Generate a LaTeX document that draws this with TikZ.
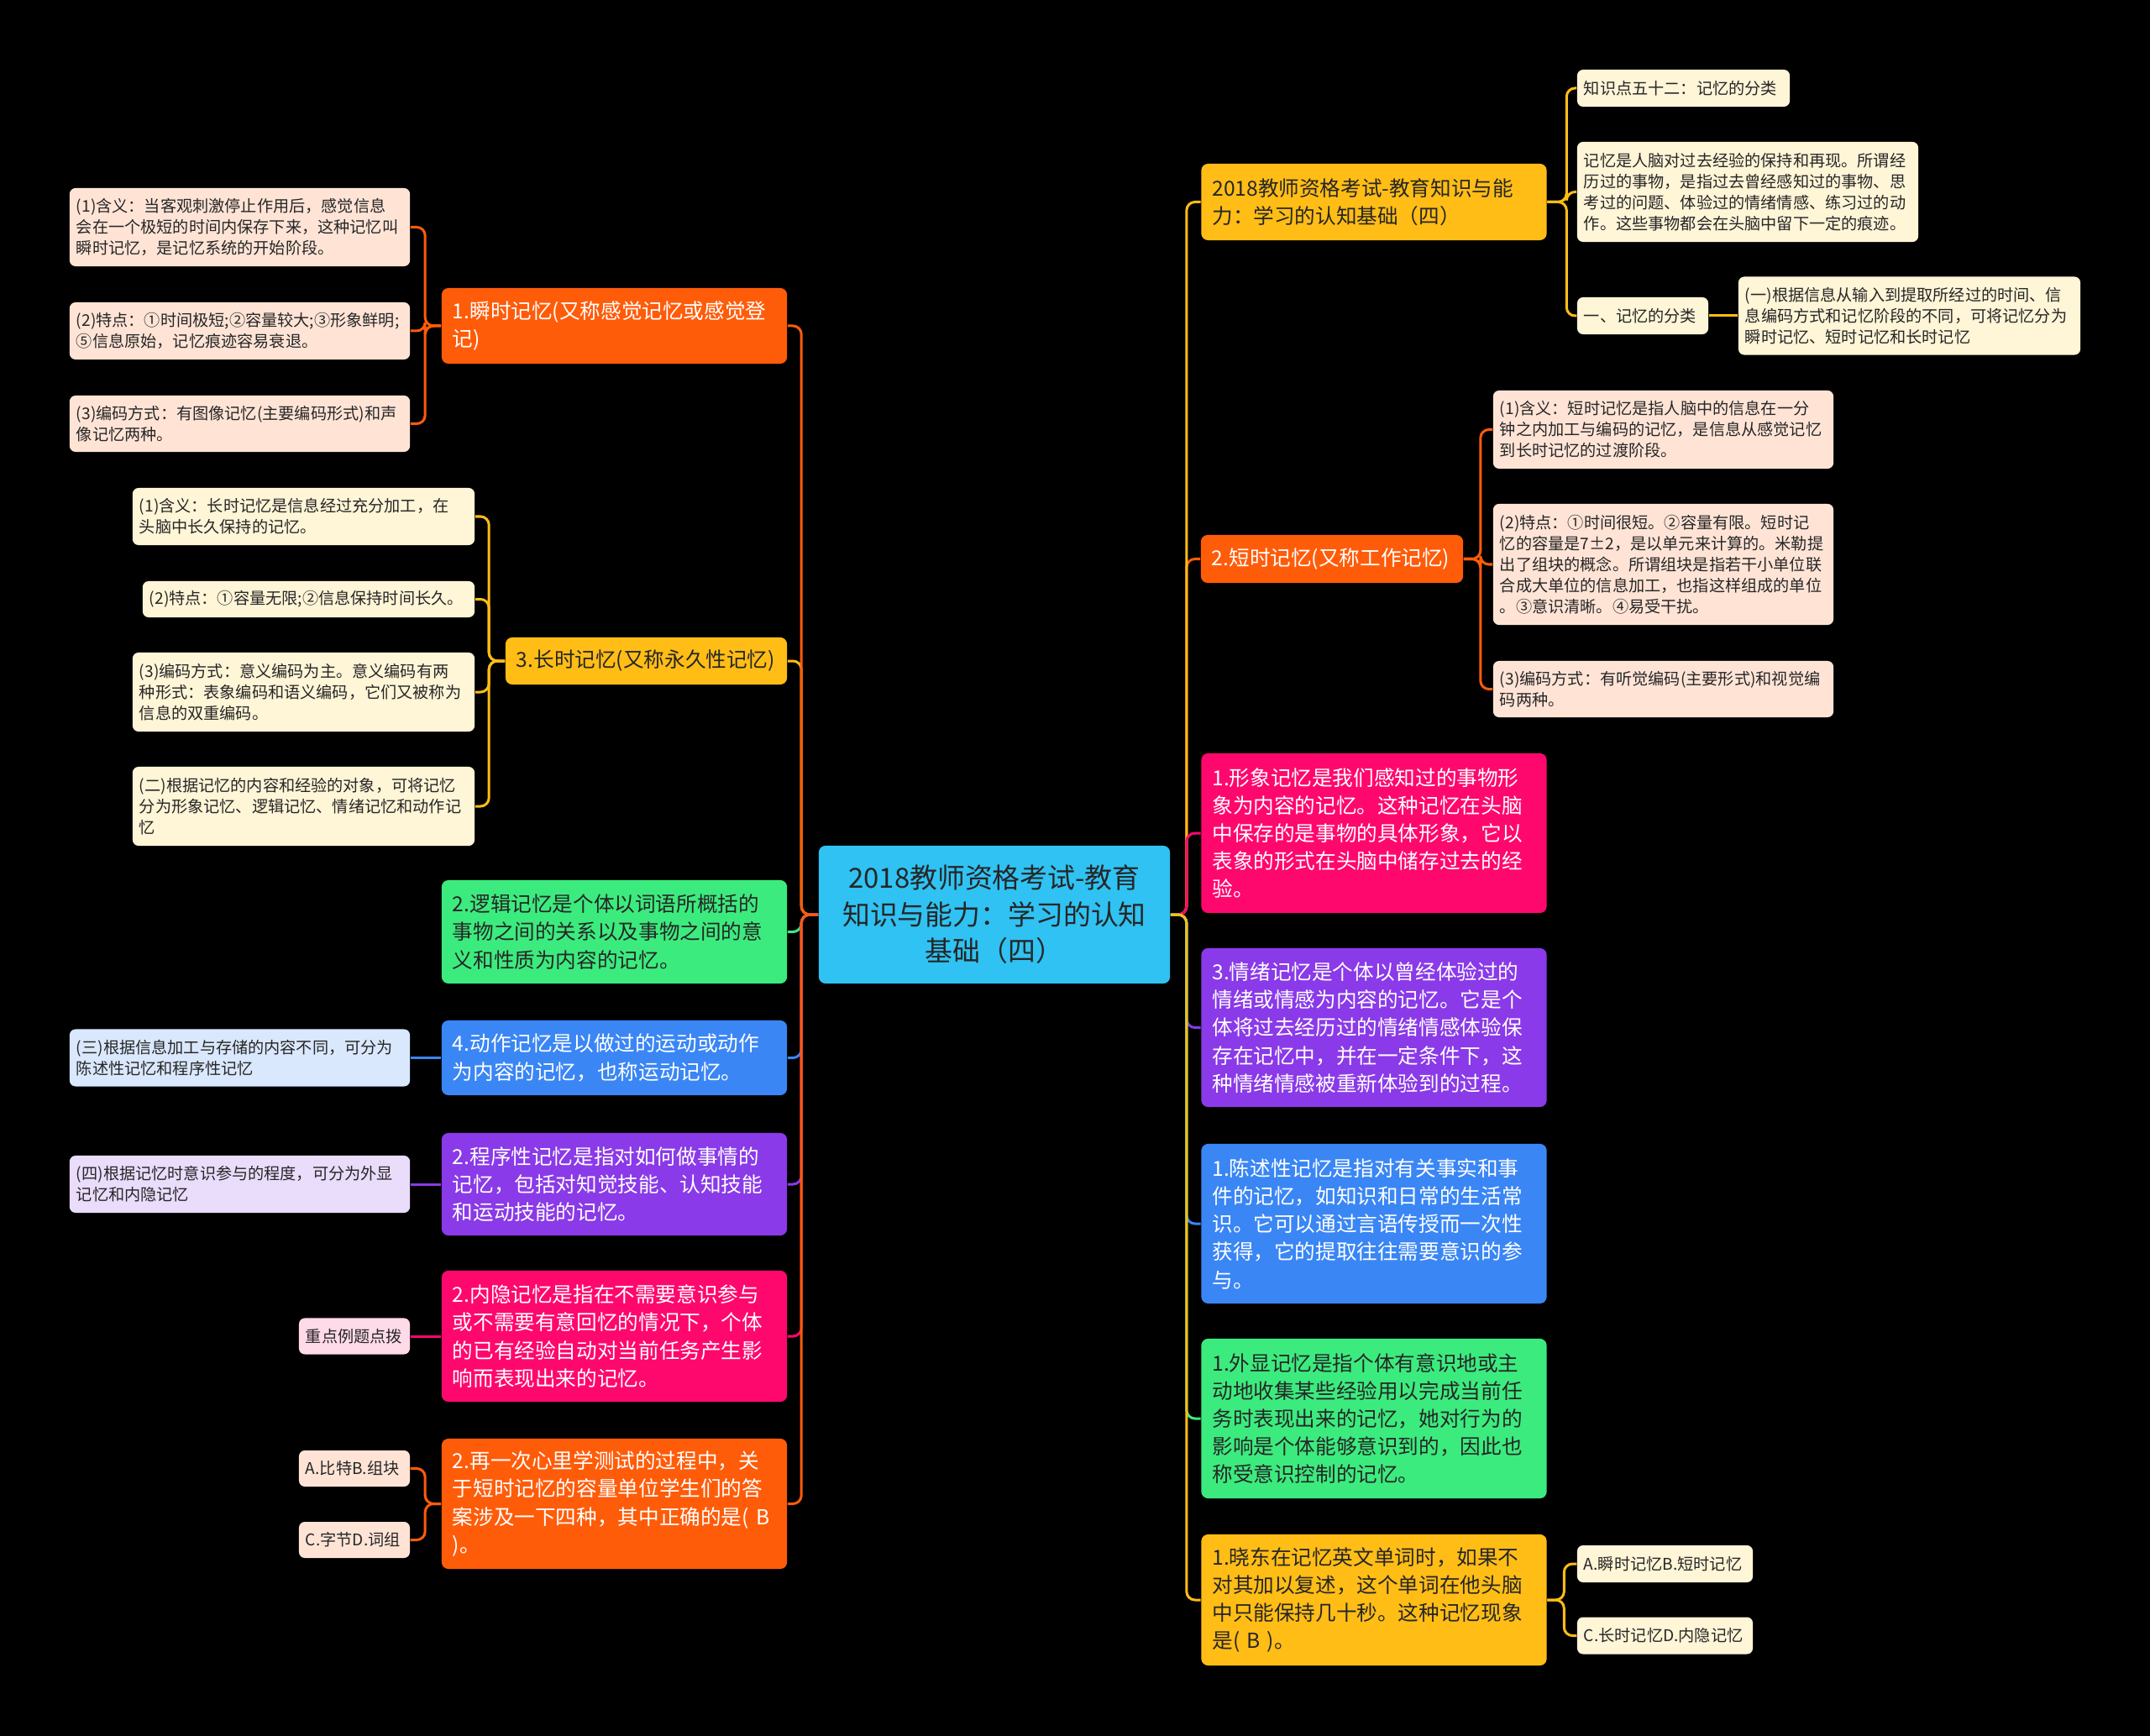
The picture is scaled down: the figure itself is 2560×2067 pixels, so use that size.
\documentclass[tikz,border=0pt]{standalone}
\usepackage{fontspec}
\setmainfont{Noto Sans CJK SC}
\usepackage{xcolor}
\usepackage{tikz}
\definecolor{rootcyan}{RGB}{47,194,242}
\definecolor{mmorange}{RGB}{255,92,10}
\definecolor{mmyellow}{RGB}{255,189,22}
\definecolor{mmgreen}{RGB}{60,235,126}
\definecolor{mmblue}{RGB}{58,134,245}
\definecolor{mmpurple}{RGB}{138,58,232}
\definecolor{mmpink}{RGB}{255,8,110}
\definecolor{leafpeach}{RGB}{255,228,214}
\definecolor{leafcream}{RGB}{255,245,215}
\definecolor{leafblue}{RGB}{218,232,253}
\definecolor{leaflilac}{RGB}{234,220,251}
\definecolor{leafpink}{RGB}{255,218,232}
\definecolor{inkdark}{RGB}{38,38,38}

\begin{document}
\begin{tikzpicture}[x=0.01cm,y=-0.01cm,
  root/.style={fill=rootcyan,text=inkdark,rounded corners=0.08cm,align=center,inner xsep=0.14cm,
    text width=3.9cm,minimum height=1.64cm,font=\fontsize{9.35}{12.4}\selectfont},
  topic/.style={rounded corners=0.08cm,align=left,inner xsep=0.13cm,inner ysep=0pt,
    text width=3.85cm,font=\fontsize{7}{9.45}\selectfont},
  leaf/.style={rounded corners=0.07cm,align=left,inner xsep=0.08cm,inner ysep=0pt,text=inkdark,
    font=\fontsize{5.45}{7.1}\selectfont},
  link/.style={line width=0.03cm,rounded corners=0.1cm}]
\useasboundingbox (0,0) rectangle (2560,2067);
\fill[black] (0,0) rectangle (2560,2067);

\node[root] (root) at (1184,1089) {2018教师资格考试-教育\\知识与能力：学习的认知\\基础（四）};

\node[topic,fill=mmorange,text=white,minimum height=0.90cm] (shunshi) at (731.5,388) {1.瞬时记忆(又称感觉记忆或感觉登\\记)};
\node[topic,fill=mmyellow,text=inkdark,text width=3.09cm,minimum height=0.56cm] (changshi) at (769.5,787) {3.长时记忆(又称永久性记忆)};
\node[topic,fill=mmgreen,text=inkdark,minimum height=1.23cm] (luoji) at (731.5,1109.5) {2.逻辑记忆是个体以词语所概括的\\事物之间的关系以及事物之间的意\\义和性质为内容的记忆。};
\node[topic,fill=mmblue,text=white,minimum height=0.89cm] (dongzuo) at (731.5,1259.5) {4.动作记忆是以做过的运动或动作\\为内容的记忆，也称运动记忆。};
\node[topic,fill=mmpurple,text=white,minimum height=1.22cm] (chengxu) at (731.5,1410) {2.程序性记忆是指对如何做事情的\\记忆，包括对知觉技能、认知技能\\和运动技能的记忆。};
\node[topic,fill=mmpink,text=white,minimum height=1.56cm] (neiyin) at (731.5,1591) {2.内隐记忆是指在不需要意识参与\\或不需要有意回忆的情况下，个体\\的已有经验自动对当前任务产生影\\响而表现出来的记忆。};
\node[topic,fill=mmorange,text=white,minimum height=1.55cm] (zaiyici) at (731.5,1790.5) {2.再一次心里学测试的过程中，关\\于短时记忆的容量单位学生们的答\\案涉及一下四种，其中正确的是( B\\)。};

\node[topic,fill=mmyellow,text=inkdark,minimum height=0.91cm] (kaoshi) at (1636,240.5) {2018教师资格考试-教育知识与能\\力：学习的认知基础（四）};
\node[topic,fill=mmorange,text=white,text width=2.86cm,minimum height=0.57cm] (duanshi) at (1586,665.5) {2.短时记忆(又称工作记忆)};
\node[topic,fill=mmpink,text=white,minimum height=1.90cm] (xingxiang) at (1636,992) {1.形象记忆是我们感知过的事物形\\象为内容的记忆。这种记忆在头脑\\中保存的是事物的具体形象，它以\\表象的形式在头脑中储存过去的经\\验。};
\node[topic,fill=mmpurple,text=white,minimum height=1.89cm] (qingxu) at (1636,1223.5) {3.情绪记忆是个体以曾经体验过的\\情绪或情感为内容的记忆。它是个\\体将过去经历过的情绪情感体验保\\存在记忆中，并在一定条件下，这\\种情绪情感被重新体验到的过程。};
\node[topic,fill=mmblue,text=white,minimum height=1.90cm] (chenshu) at (1636,1457) {1.陈述性记忆是指对有关事实和事\\件的记忆，如知识和日常的生活常\\识。它可以通过言语传授而一次性\\获得，它的提取往往需要意识的参\\与。};
\node[topic,fill=mmgreen,text=inkdark,minimum height=1.90cm] (waixian) at (1636,1689) {1.外显记忆是指个体有意识地或主\\动地收集某些经验用以完成当前任\\务时表现出来的记忆，她对行为的\\影响是个体能够意识到的，因此也\\称受意识控制的记忆。};
\node[topic,fill=mmyellow,text=inkdark,minimum height=1.56cm] (xiaodong) at (1636,1905) {1.晓东在记忆英文单词时，如果不\\对其加以复述，这个单词在他头脑\\中只能保持几十秒。这种记忆现象\\是( B )。};

\node[leaf,fill=leafpeach,text width=3.89cm,minimum height=0.93cm] (s1) at (285.5,270.5) {(1)含义：当客观刺激停止作用后，感觉信息\\会在一个极短的时间内保存下来，这种记忆叫\\瞬时记忆，是记忆系统的开始阶段。};
\node[leaf,fill=leafpeach,text width=3.89cm,minimum height=0.68cm] (s2) at (285.5,394) {(2)特点：①时间极短;②容量较大;③形象鲜明;\\⑤信息原始，记忆痕迹容易衰退。};
\node[leaf,fill=leafpeach,text width=3.89cm,minimum height=0.67cm] (s3) at (285.5,504.5) {(3)编码方式：有图像记忆(主要编码形式)和声\\像记忆两种。};
\node[leaf,fill=leafcream,text width=3.91cm,minimum height=0.68cm] (l1) at (361.5,615) {(1)含义：长时记忆是信息经过充分加工，在\\头脑中长久保持的记忆。};
\node[leaf,fill=leafcream,text width=3.79cm,minimum height=0.43cm] (l2) at (367.5,713.5) {(2)特点：①容量无限;②信息保持时间长久。};
\node[leaf,fill=leafcream,text width=3.91cm,minimum height=0.94cm] (l3) at (361.5,824) {(3)编码方式：意义编码为主。意义编码有两\\种形式：表象编码和语义编码，它们又被称为\\信息的双重编码。};
\node[leaf,fill=leafcream,text width=3.91cm,minimum height=0.94cm] (l4) at (361.5,960) {(二)根据记忆的内容和经验的对象，可将记忆\\分为形象记忆、逻辑记忆、情绪记忆和动作记\\忆};
\node[leaf,fill=leafblue,text width=3.89cm,minimum height=0.68cm] (san) at (285.5,1259.5) {(三)根据信息加工与存储的内容不同，可分为\\陈述性记忆和程序性记忆};
\node[leaf,fill=leaflilac,text width=3.89cm,minimum height=0.68cm] (si) at (285.5,1410) {(四)根据记忆时意识参与的程度，可分为外显\\记忆和内隐记忆};
\node[leaf,fill=leafpink,text width=1.16cm,minimum height=0.43cm] (zhongdian) at (422,1591) {重点例题点拨};
\node[leaf,fill=leafpeach,text width=1.16cm,minimum height=0.43cm] (optA) at (422,1748.5) {A.比特B.组块};
\node[leaf,fill=leafpeach,text width=1.16cm,minimum height=0.43cm] (optC) at (422,1833.5) {C.字节D.词组};

\node[leaf,fill=leafcream,text width=2.37cm,minimum height=0.44cm] (zsd) at (2004.5,105) {知识点五十二：记忆的分类};
\node[leaf,fill=leafcream,text width=3.90cm,minimum height=1.19cm] (jiyi) at (2081,228.5) {记忆是人脑对过去经验的保持和再现。所谓经\\历过的事物，是指过去曾经感知过的事物、思\\考过的问题、体验过的情绪情感、练习过的动\\作。这些事物都会在头脑中留下一定的痕迹。};
\node[leaf,fill=leafcream,text width=1.40cm,minimum height=0.44cm] (fenlei) at (1956,376) {一、记忆的分类};
\node[leaf,fill=leafcream,text width=3.91cm,minimum height=0.93cm] (yi) at (2273.5,376) {(一)根据信息从输入到提取所经过的时间、信\\息编码方式和记忆阶段的不同，可将记忆分为\\瞬时记忆、短时记忆和长时记忆};
\node[leaf,fill=leafpeach,text width=3.89cm,minimum height=0.93cm] (d1) at (1980.5,511.5) {(1)含义：短时记忆是指人脑中的信息在一分\\钟之内加工与编码的记忆，是信息从感觉记忆\\到长时记忆的过渡阶段。};
\node[leaf,fill=leafpeach,text width=3.89cm,minimum height=1.44cm] (d2) at (1980.5,672) {(2)特点：①时间很短。②容量有限。短时记\\忆的容量是7±2，是以单元来计算的。米勒提\\出了组块的概念。所谓组块是指若干小单位联\\合成大单位的信息加工，也指这样组成的单位\\。③意识清晰。④易受干扰。};
\node[leaf,fill=leafpeach,text width=3.89cm,minimum height=0.67cm] (d3) at (1980.5,820.5) {(3)编码方式：有听觉编码(主要形式)和视觉编\\码两种。};
\node[leaf,fill=leafcream,text width=1.93cm,minimum height=0.44cm] (optAB) at (1982.5,1862) {A.瞬时记忆B.短时记忆};
\node[leaf,fill=leafcream,text width=1.93cm,minimum height=0.44cm] (optCD) at (1982.5,1947.5) {C.长时记忆D.内隐记忆};

\foreach \n/\c in {changshi/mmyellow,shunshi/mmorange,luoji/mmgreen,dongzuo/mmblue,
                   chengxu/mmpurple,neiyin/mmpink,zaiyici/mmorange}{
  \draw[link,\c] (root.west) -- ++(-20,0) |- (\n.east);}
\foreach \n/\c in {duanshi/mmorange,kaoshi/mmyellow,xingxiang/mmpink,qingxu/mmpurple,
                   chenshu/mmblue,waixian/mmgreen,xiaodong/mmyellow}{
  \draw[link,\c] (root.east) -- ++(19,0) |- (\n.west);}
\foreach \n in {s1,s2,s3}{\draw[link,mmorange] (shunshi.west) -- ++(-19,0) |- (\n.east);}
\foreach \n in {l1,l2,l3,l4}{\draw[link,mmyellow] (changshi.west) -- ++(-19,0) |- (\n.east);}
\foreach \n in {optA,optC}{\draw[link,mmorange] (zaiyici.west) -- ++(-19,0) |- (\n.east);}
\draw[link,mmblue] (dongzuo.west) -- (san.east);
\draw[link,mmpurple] (chengxu.west) -- (si.east);
\draw[link,mmpink] (neiyin.west) -- (zhongdian.east);
\foreach \n in {zsd,jiyi,fenlei}{\draw[link,mmyellow] (kaoshi.east) -- ++(23,0) |- (\n.west);}
\draw[link,mmyellow] (fenlei.east) -- (yi.west);
\foreach \n in {d1,d2,d3}{\draw[link,mmorange] (duanshi.east) -- ++(20,0) |- (\n.west);}
\foreach \n in {optAB,optCD}{\draw[link,mmyellow] (xiaodong.east) -- ++(20,0) |- (\n.west);}
\end{tikzpicture}
\end{document}
